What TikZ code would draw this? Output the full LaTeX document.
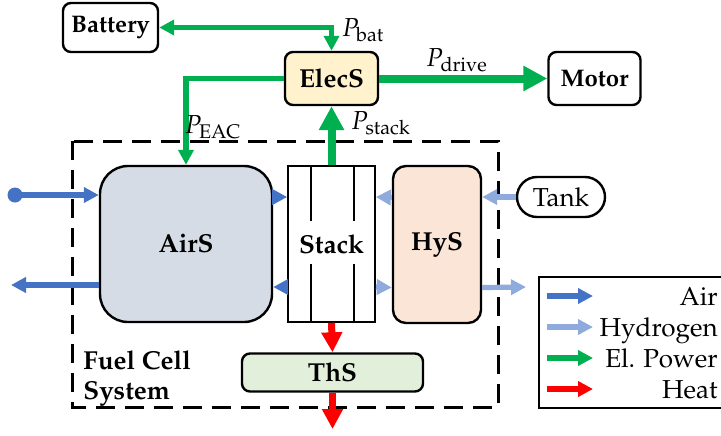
\documentclass[tikz,border=0pt]{standalone}
\usepackage[T1]{fontenc}
\usepackage{mathpazo}
\usepackage{xcolor}
\usepackage{tikz}
\usetikzlibrary{arrows.meta,positioning}
\definecolor{cair}{HTML}{4472C4}
\definecolor{chyd}{HTML}{8FAADC}
\definecolor{cpow}{HTML}{00B050}
\definecolor{cheat}{HTML}{FF0000}
\definecolor{fairs}{HTML}{D6DCE5}
\definecolor{felec}{HTML}{FFF2CC}
\definecolor{fhys}{HTML}{FBE5D6}
\definecolor{fths}{HTML}{E2EFDA}
\tikzset{>={Triangle[length=7.5pt,width=7.5pt]}}
\tikzset{
  blk/.style={draw,line width=1.2pt,rounded corners=4pt,inner sep=0pt,font=\fontsize{13}{15}\selectfont\bfseries},
  air/.style={cair,line width=2.6pt},
  hyd/.style={chyd,line width=2.6pt},
  pow/.style={cpow,line width=2.6pt},
  powthick/.style={cpow,line width=4pt,-{Triangle[length=12pt,width=12pt]}},
  heat/.style={cheat,line width=3.5pt,-{Triangle[length=10pt,width=10pt]}},
  heatleg/.style={cheat,line width=2.6pt},
}

\begin{document}
\begin{tikzpicture}[x=0.5pt,y=-0.5pt,font=\fontsize{13}{15}\selectfont]
\useasboundingbox (0,0) rectangle (721,435);

% ============ Fuel cell system frame ============
\draw[line width=1.5pt,dash pattern=on 9.5pt off 5pt] (72,141) rectangle (498,407);
\node[anchor=north west,align=left,inner sep=0pt,font=\fontsize{13}{15}\selectfont\bfseries] (fcs) at (83,350) {Fuel Cell\\System};

% ============ blocks ============
\node[blk,minimum width=47.5pt,minimum height=24.5pt,font=\fontsize{12}{14}\selectfont\bfseries] (battery) at (110.5,27.5) {Battery};
\node[blk,fill=felec,minimum width=46.5pt,minimum height=26.5pt] (elecs) at (331.5,78.5) {ElecS};
\node[blk,minimum width=46pt,minimum height=26.5pt,font=\fontsize{12}{14}\selectfont\bfseries] (motor) at (594.5,78.5) {Motor};
\node[blk,fill=fairs,rounded corners=14pt,minimum width=86pt,minimum height=78pt] (airs) at (186,244) {AirS};
\node[blk,fill=white,rounded corners=0pt,line width=0.8pt,minimum width=43.5pt,minimum height=78pt] (stack) at (331.5,244) {Stack};
\node[blk,fill=fhys,rounded corners=6.5pt,minimum width=44pt,minimum height=78.5pt] (hys) at (437,244.5) {HyS};
\node[blk,font=\fontsize{13}{15}\selectfont,rounded corners=10pt,minimum width=44pt,minimum height=20pt] (tank) at (561,197) {Tank};
\node[blk,fill=fths,minimum width=90.5pt,minimum height=19pt] (ths) at (332.5,372.5) {ThS};

% cell lines in the stack
\foreach \dx in {-10.25pt,11.25pt} {
  \draw[line width=0.8pt] ([xshift=\dx]stack.north) -- ++(0,56);
  \draw[line width=0.8pt] ([xshift=\dx]stack.south) -- ++(0,-59);
}

% ============ electric power ============
\draw[pow,<->] (battery.east) -| (elecs.north);
\node (pbat) at (363,30) {$P_{\mathrm{bat}}$};
\draw[pow,->] (elecs.west) -| (airs.north);
\node (peac) at (213,127) {$P_{\mathrm{EAC}}$};
\draw[powthick] (stack.north) -- (elecs.south);
\node (pstack) at (381,123) {$P_{\mathrm{stack}}$};
\draw[powthick] (elecs.east) -- (motor.west);
\node (pdrive) at (457,60) {$P_{\mathrm{drive}}$};

% ============ air ============
\coordinate (airin) at (15,195);
\coordinate (airout) at (11,285);
\fill[cair] (airin) circle (3.75pt);
\draw[air,->] (airin) -- (airs.west |- airin);
\draw[air,->] (airs.west |- airout) -- (airout);
\draw[air,->] ([yshift=23.5pt]airs.east) -- ([yshift=23.5pt]stack.west);
\draw[air,->] ([yshift=-21.5pt]stack.west) -- ([yshift=-21.5pt]airs.east);

% ============ hydrogen ============
\coordinate (h2out) at (526,287);
\draw[hyd,->] (tank.west) -- (hys.east |- tank.west);
\draw[hyd,->] ([yshift=23.5pt]hys.west) -- ([yshift=23.5pt]stack.east);
\draw[hyd,->] ([yshift=-21.5pt]stack.east) -- ([yshift=-21.5pt]hys.west);
\draw[hyd,->] ([yshift=-21.5pt]hys.east) -- (h2out);

% ============ heat ============
\coordinate (heatout) at (332.5,429);
\draw[heat] (stack.south) -- (ths.north);
\draw[heat] (ths.south) -- (heatout);

% ============ legend ============
\draw[line width=1.2pt] (539,277) rectangle (740,408);
\foreach \st/\txt [count=\i] in {air/Air,hyd/Hydrogen,pow/El. Power,heatleg/Heat} {
  \coordinate (la\i) at (547,265+31*\i);
  \coordinate (lb\i) at (593,265+31*\i);
  \draw[\st,->] (la\i) -- (lb\i);
  \node[anchor=base east,inner sep=0pt] (lt\i) at (718,274+31*\i) {\txt};
}

\end{tikzpicture}
\end{document}
